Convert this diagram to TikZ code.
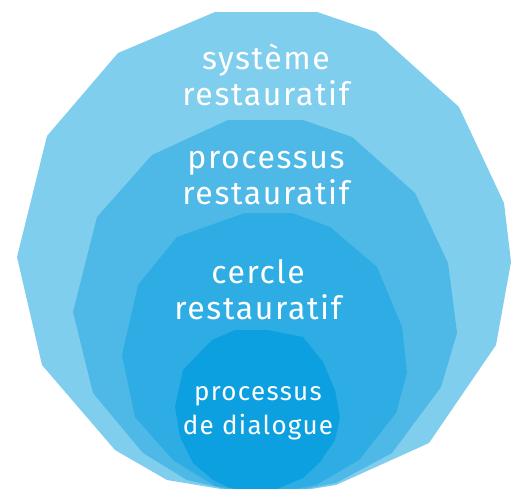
\documentclass[tikz,border=0pt]{standalone}
\usepackage{fontspec}
\setmainfont{Fira Sans}[LetterSpace=5]
\usetikzlibrary{positioning}

\definecolor{layerA}{RGB}{128,206,238}
\definecolor{layerB}{RGB}{78,184,230}
\definecolor{layerC}{RGB}{46,172,228}
\definecolor{layerD}{RGB}{12,160,224}

\tikzset{
  label big/.style={text=white, align=center, font=\fontsize{32}{36}\selectfont, inner sep=0pt},
  label small/.style={text=white, align=center, font=\fontsize{26}{34}\selectfont, inner sep=0pt},
}

\begin{document}
\begin{tikzpicture}[x=1pt,y=-1pt]
\useasboundingbox (0,0) rectangle (518,488);
\clip (0,0) rectangle (518,488);

% outer ring
\fill[layerA] (215,12) -- (317,12) -- (376,32) -- (459,107) -- (504,203) -- (511,262)
  -- (496,345) -- (429,443) -- (336,485) -- (280,494) -- (227,490) -- (167,480)
  -- (115,450) -- (42,365) -- (17,257) -- (47,136) -- (118,53) -- cycle;

\fill[layerB] (228,120) -- (303,120) -- (352,137) -- (415,193) -- (448,263) -- (457,333)
  -- (441,387) -- (392,453) -- (336,483) -- (280,494) -- (230,490) -- (187,480)
  -- (143,453) -- (93,393) -- (73,312) -- (97,217) -- (152,155) -- cycle;

\fill[layerC] (245,213) -- (292,213) -- (330,227) -- (377,267) -- (402,327) -- (407,373)
  -- (396,413) -- (359,460) -- (316,485) -- (270,494) -- (215,486) -- (173,460)
  -- (135,417) -- (122,355) -- (138,285) -- (177,237) -- cycle;

% inner ring
\fill[layerD] (235,330) -- (268,330) -- (303,337) -- (323,362) -- (335,390) -- (340,417)
  -- (335,440) -- (320,462) -- (303,478) -- (265,494) -- (230,488) -- (213,480)
  -- (193,463) -- (180,437) -- (175,407) -- (183,370) -- (212,340) -- cycle;

\node[label big] (systeme) at (266,75) {système\\restauratif};
\node[label big] (processusR) at (266,178) {processus\\restauratif};
\node[label big] (cercle) at (258,290) {cercle\\restauratif};
\node[label small] (dialogue) at (258,413) {processus\\de dialogue};
\end{tikzpicture}
\end{document}
